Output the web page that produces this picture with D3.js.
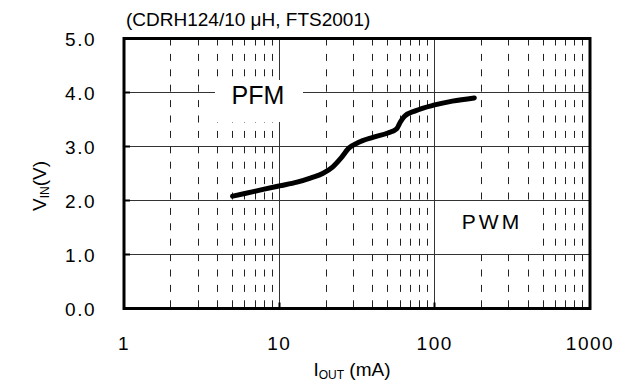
<!DOCTYPE html>
<html>
<head>
<meta charset="utf-8">
<script src="https://cdn.jsdelivr.net/npm/d3@7"></script>
<style>
  body { margin: 0; background: #fff; }
  svg text { font-family: "Liberation Sans", Arial, sans-serif; fill: #000; }
</style>
</head>
<body>
<div id="graph"></div>
<script>
// Curve: output current (mA) vs input voltage (V) at the PFM/PWM boundary
var iOut = [ 5, 6, 8, 10, 13, 16, 19, 22, 25, 28, 32, 40, 50, 57, 60, 64, 75, 100, 130, 180 ];
var vIn  = [ 2.08, 2.13, 2.21, 2.27, 2.34, 2.42, 2.50, 2.62, 2.79, 2.97, 3.07, 3.17, 3.25, 3.33, 3.45, 3.56, 3.66, 3.77, 3.84, 3.90 ];

var xTicks = [ 1, 10, 100, 1000 ];
var yTicks = [ 0, 1, 2, 3, 4, 5 ];

var width  = 630;
var height = 385;

var x = d3.scaleLog().domain([1, 1000]).range([124, 590]);
var y = d3.scaleLinear().domain([0, 5]).range([308.5, 38.5]);

var svg = d3.select('#graph').append('svg')
            .attr('width', width)
            .attr('height', height);

// minor log values 2..9 in each decade
var minor = [];
[1, 10, 100].forEach(function (d) {
    for (var k = 2; k <= 9; k++) minor.push(d * k);
});

var snap = function (v) { return Math.round(v - 0.5) + 0.5; };

// dashed minor verticals
svg.append('g').selectAll('line')
   .data(minor)
   .enter().append('line')
   .attr('x1', function (d) { return snap(x(d)); })
   .attr('x2', function (d) { return snap(x(d)); })
   .attr('y1', y(5))
   .attr('y2', y(0))
   .attr('stroke', '#222')
   .attr('stroke-width', 1)
   .attr('stroke-dasharray', '7,8.4');

// solid major grid
svg.append('g').selectAll('line')
   .data([10, 100])
   .enter().append('line')
   .attr('x1', function (d) { return snap(x(d)); })
   .attr('x2', function (d) { return snap(x(d)); })
   .attr('y1', y(5))
   .attr('y2', y(0))
   .attr('stroke', '#333');

svg.append('g').selectAll('line')
   .data([1, 2, 3, 4])
   .enter().append('line')
   .attr('x1', x(1))
   .attr('x2', x(1000))
   .attr('y1', function (d) { return snap(y(d)); })
   .attr('y2', function (d) { return snap(y(d)); })
   .attr('stroke', '#333');

// inward ticks
svg.append('g').selectAll('line')
   .data([1, 2, 3, 4])
   .enter().append('line')
   .attr('x1', x(1))
   .attr('x2', x(1) + 6)
   .attr('y1', function (d) { return snap(y(d)); })
   .attr('y2', function (d) { return snap(y(d)); })
   .attr('stroke', '#000')
   .attr('stroke-width', 2);

svg.append('g').selectAll('line')
   .data([10, 100])
   .enter().append('line')
   .attr('x1', function (d) { return snap(x(d)); })
   .attr('x2', function (d) { return snap(x(d)); })
   .attr('y1', y(0))
   .attr('y2', y(0) - 6)
   .attr('stroke', '#000')
   .attr('stroke-width', 2);

// region labels on white boxes
svg.append('rect').attr('x', 215).attr('y', 80).attr('width', 88).attr('height', 42).attr('fill', '#fff');
svg.append('rect').attr('x', 445).attr('y', 206).attr('width', 91).attr('height', 43).attr('fill', '#fff');

svg.append('text')
   .attr('x', 258).attr('y', 104)
   .attr('text-anchor', 'middle')
   .style('font-size', '25px')
   .text('PFM');

svg.append('text')
   .attr('x', 492).attr('y', 229)
   .attr('text-anchor', 'middle')
   .style('font-size', '21px')
   .style('letter-spacing', '3px')
   .text('PWM');

// curve
var pts = iOut.map(function (d, i) { return [d, vIn[i]]; });
svg.append('path')
   .datum(pts)
   .attr('fill', 'none')
   .attr('stroke', '#000')
   .attr('stroke-width', 5)
   .attr('stroke-linecap', 'round')
   .attr('stroke-linejoin', 'round')
   .attr('d', d3.line()
                .x(function (d) { return x(d[0]); })
                .y(function (d) { return y(d[1]); })
                .curve(d3.curveMonotoneX));

// frame
svg.append('rect')
   .attr('x', x(1)).attr('y', y(5))
   .attr('width', x(1000) - x(1))
   .attr('height', y(0) - y(5))
   .attr('fill', 'none')
   .attr('stroke', '#000')
   .attr('stroke-width', 3);

// tick labels
svg.append('g').selectAll('text')
   .data(yTicks)
   .enter().append('text')
   .attr('x', 96)
   .attr('y', function (d) { return y(d) + 7; })
   .attr('text-anchor', 'end')
   .style('font-size', '19px')
   .style('letter-spacing', '1.5px')
   .text(function (d) { return d3.format('.1f')(d); });

svg.append('g').selectAll('text')
   .data(xTicks)
   .enter().append('text')
   .attr('x', function (d) { return x(d); })
   .attr('y', 350)
   .attr('text-anchor', 'middle')
   .style('font-size', '19px')
   .style('letter-spacing', '1.5px')
   .text(function (d) { return d; });

// titles
svg.append('text')
   .attr('x', 126).attr('y', 26)
   .style('font-size', '19px')
   .text('(CDRH124/10 \u03bcH, FTS2001)');

var xt = svg.append('text')
   .attr('x', 352).attr('y', 376)
   .attr('text-anchor', 'middle')
   .style('font-size', '19px');
xt.append('tspan').text('I');
xt.append('tspan').attr('dy', 3).style('font-size', '12px').text('OUT');
xt.append('tspan').attr('dy', -3).text(' (mA)');

var yt = svg.append('text')
   .attr('transform', 'translate(46,186) rotate(-90)')
   .attr('text-anchor', 'middle')
   .style('font-size', '19px');
yt.append('tspan').text('V');
yt.append('tspan').attr('dy', 3).style('font-size', '12px').text('IN');
yt.append('tspan').attr('dy', -3).text('(V)');
</script>
</body>
</html>
